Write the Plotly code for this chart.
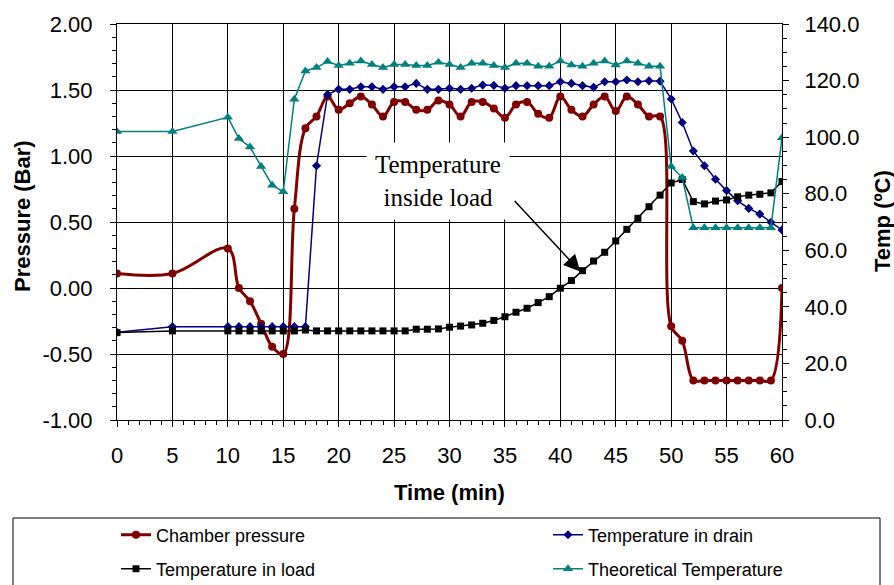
import plotly.graph_objects as go

# ---- data ----
times = [0, 5] + list(range(10, 61))

chamber_pressure = [0.11, 0.11,
    0.30, 0.00, -0.10, -0.27, -0.445, -0.50, 0.60, 1.21, 1.30, 1.45,
    1.35, 1.40, 1.45, 1.39, 1.30, 1.41, 1.41, 1.35, 1.35, 1.42,
    1.39, 1.30, 1.41, 1.41, 1.36, 1.29, 1.39, 1.41, 1.32, 1.29,
    1.45, 1.35, 1.30, 1.39, 1.45, 1.34, 1.45, 1.39, 1.30, 1.30,
    -0.29, -0.40, -0.70, -0.70, -0.70, -0.70, -0.70, -0.70, -0.70, -0.70,
    0.00]

temp_drain = [31.0, 33.0,
    33.0, 33.0, 33.0, 33.0, 33.0, 33.0, 33.0, 33.0, 89.9, 115.1,
    116.9, 116.9, 117.8, 117.8, 116.9, 117.8, 117.8, 119.0, 116.9, 116.9,
    117.3, 116.9, 117.3, 118.4, 118.3, 117.3, 118.2, 118.2, 118.2, 118.2,
    119.6, 119.0, 118.2, 117.6, 119.6, 119.6, 120.2, 119.6, 119.9, 119.8,
    113.5, 105.2, 95.1, 89.9, 85.1, 81.1, 77.5, 74.8, 72.8, 69.9,
    67.2]

temp_load = [30.9, 31.5,
    31.5, 31.5, 31.5, 31.5, 31.5, 31.5, 31.5, 31.8, 31.5, 31.5,
    31.5, 31.5, 31.5, 31.5, 31.5, 31.5, 31.5, 32.1, 32.1, 32.2,
    32.8, 33.2, 33.6, 34.2, 35.2, 36.5, 38.1, 39.5, 41.5, 43.6,
    46.6, 49.3, 52.8, 56.2, 59.3, 63.3, 67.4, 71.3, 75.4, 79.5,
    83.8, 85.0, 77.2, 76.4, 77.4, 77.8, 78.9, 79.5, 79.8, 80.3,
    84.3]

temp_theoretical = [102.0, 102.0,
    107.0, 99.5, 96.5, 89.6, 83.0, 80.7, 113.4, 123.4, 124.6, 126.7,
    125.3, 126.1, 126.9, 125.7, 124.6, 125.7, 125.7, 125.3, 125.3, 126.5,
    125.7, 124.6, 126.1, 126.1, 125.3, 124.6, 126.1, 126.1, 125.1, 125.1,
    126.9, 125.5, 125.1, 126.1, 126.9, 125.5, 126.9, 126.1, 125.1, 125.1,
    89.6, 85.7, 68.0, 68.0, 68.0, 68.0, 68.0, 68.0, 68.0, 68.0,
    99.8]

pressure_ticks = [-1.0, -0.5, 0.0, 0.5, 1.0, 1.5, 2.0]
pressure_tick_labels = ["-1.00", "-0.50", "0.00", "0.50", "1.00", "1.50", "2.00"]
temp_ticks = [0, 20, 40, 60, 80, 100, 120, 140]
temp_tick_labels = ["0.0", "20.0", "40.0", "60.0", "80.0", "100.0", "120.0", "140.0"]
time_ticks = list(range(0, 61, 5))

annot_index = times.index(42)

# ---- figure ----
FONT = "Arial, Liberation Sans, sans-serif"
SERIF = "Times New Roman, Liberation Serif, serif"

fig = go.Figure()
fig.add_trace(go.Scatter(
    x=times, y=chamber_pressure, name="Chamber pressure", mode="lines+markers",
    line=dict(color="#800000", width=3, shape="spline", smoothing=1),
    marker=dict(symbol="circle", size=8, color="#800000"),
    yaxis="y", legend="legend"))
fig.add_trace(go.Scatter(
    x=times, y=temp_drain, name="Temperature in drain", mode="lines+markers",
    line=dict(color="#000080", width=1.5),
    marker=dict(symbol="diamond", size=7, color="#000080"),
    yaxis="y2", legend="legend2"))
fig.add_trace(go.Scatter(
    x=times, y=temp_load, name="Temperature in load", mode="lines+markers",
    line=dict(color="#000000", width=1.5),
    marker=dict(symbol="square", size=7, color="#000000"),
    yaxis="y2", legend="legend3"))
fig.add_trace(go.Scatter(
    x=times, y=temp_theoretical, name="Theoretical Temperature", mode="lines+markers",
    line=dict(color="#008080", width=1.5),
    marker=dict(symbol="triangle-up", size=9, color="#008080"),
    yaxis="y2", legend="legend4"))

W, H = 894, 585
PL, PR, PT, PB = 117, 782, 24, 420          # plot area in page pixels
L, T, R, B = PL, PT, W - PR, H - PB
pw, ph = PR - PL, PB - PT


def px_x(px):
    return (px - PL) / pw


def px_y(py):
    return (PB - py) / ph


minor_common = dict(ticks="outside", ticklen=4, tickcolor="black", showgrid=False)
legend_common = dict(xanchor="left", yanchor="middle", orientation="v",
                     font=dict(family=FONT, size=18, color="black"),
                     bgcolor="rgba(0,0,0,0)", borderwidth=0)

fig.update_layout(
    width=W, height=H, autosize=False,
    margin=dict(l=L, r=R, t=T, b=B, autoexpand=False),
    paper_bgcolor="white", plot_bgcolor="white",
    font=dict(family=FONT, size=22, color="black"),
    hovermode=False,
    xaxis=dict(
        range=[0, 60], tickvals=time_ticks, showgrid=True, gridcolor="black", gridwidth=1,
        showline=True, linecolor="black", linewidth=1, mirror=True,
        ticks="outside", ticklen=6, tickcolor="black", ticklabelstandoff=10,
        minor=dict(dtick=1, **minor_common), zeroline=False, automargin=False,
        tickfont=dict(size=22)),
    yaxis=dict(
        range=[-1, 2], tickvals=pressure_ticks, ticktext=pressure_tick_labels,
        showgrid=True, gridcolor="black", gridwidth=1,
        showline=True, linecolor="black", linewidth=1,
        ticks="outside", ticklen=6, tickcolor="black", ticklabelstandoff=13,
        minor=dict(dtick=0.1, **minor_common), zeroline=False, automargin=False,
        tickfont=dict(size=22)),
    yaxis2=dict(
        range=[0, 140], tickvals=temp_ticks, ticktext=temp_tick_labels,
        overlaying="y", side="right", showgrid=False,
        showline=True, linecolor="black", linewidth=1,
        ticks="outside", ticklen=6, tickcolor="black", ticklabelstandoff=11,
        minor=dict(dtick=5, **minor_common), zeroline=False, automargin=False,
        tickfont=dict(size=22)),
    legend=dict(x=px_x(116), y=px_y(535), **legend_common),
    legend2=dict(x=px_x(548), y=px_y(535), **legend_common),
    legend3=dict(x=px_x(116), y=px_y(569), **legend_common),
    legend4=dict(x=px_x(548), y=px_y(569), **legend_common),
    showlegend=True,
)

# legend frame
fig.add_shape(type="rect", xref="paper", yref="paper",
              x0=px_x(13), x1=px_x(880), y0=px_y(518), y1=px_y(620),
              line=dict(color="black", width=1), fillcolor="rgba(0,0,0,0)")

# axis titles
fig.add_annotation(text="<b>Pressure (Bar)</b>", xref="paper", yref="paper",
                   x=px_x(22), y=px_y(216), xanchor="center", yanchor="middle",
                   textangle=-90, showarrow=False,
                   font=dict(family=FONT, size=22, color="black"))
fig.add_annotation(text="<b>Temp (ºC)</b>", xref="paper", yref="paper",
                   x=px_x(882), y=px_y(221), xanchor="center", yanchor="middle",
                   textangle=-90, showarrow=False,
                   font=dict(family=FONT, size=22, color="black"))
fig.add_annotation(text="<b>Time (min)</b>", xref="paper", yref="paper",
                   x=px_x(449), y=px_y(492), xanchor="center", yanchor="middle",
                   showarrow=False,
                   font=dict(family=FONT, size=22, color="black"))

# callout text
fig.add_annotation(text="Temperature<br>inside load", xref="paper", yref="paper",
                   x=px_x(438), y=px_y(181), xanchor="center", yanchor="middle",
                   showarrow=False, bgcolor="white", borderpad=8,
                   font=dict(family=SERIF, size=25, color="black"))
# callout arrow pointing at the load curve
fig.add_annotation(text="", x=times[annot_index] - 0.2, y=temp_load[annot_index] - 0.3,
                   xref="x", yref="y2", showarrow=True,
                   ax=-67, ay=-72, axref="pixel", ayref="pixel",
                   arrowhead=2, arrowsize=2.2, arrowwidth=1.5, arrowcolor="black",
                   standoff=0)

# remove the default 8px page margin so the figure fills the 894x585 window exactly
fig.write_html("out.html",
               config={"displayModeBar": False, "staticPlot": False},
               post_script="document.body.style.margin='0';document.body.style.overflow='hidden';")
